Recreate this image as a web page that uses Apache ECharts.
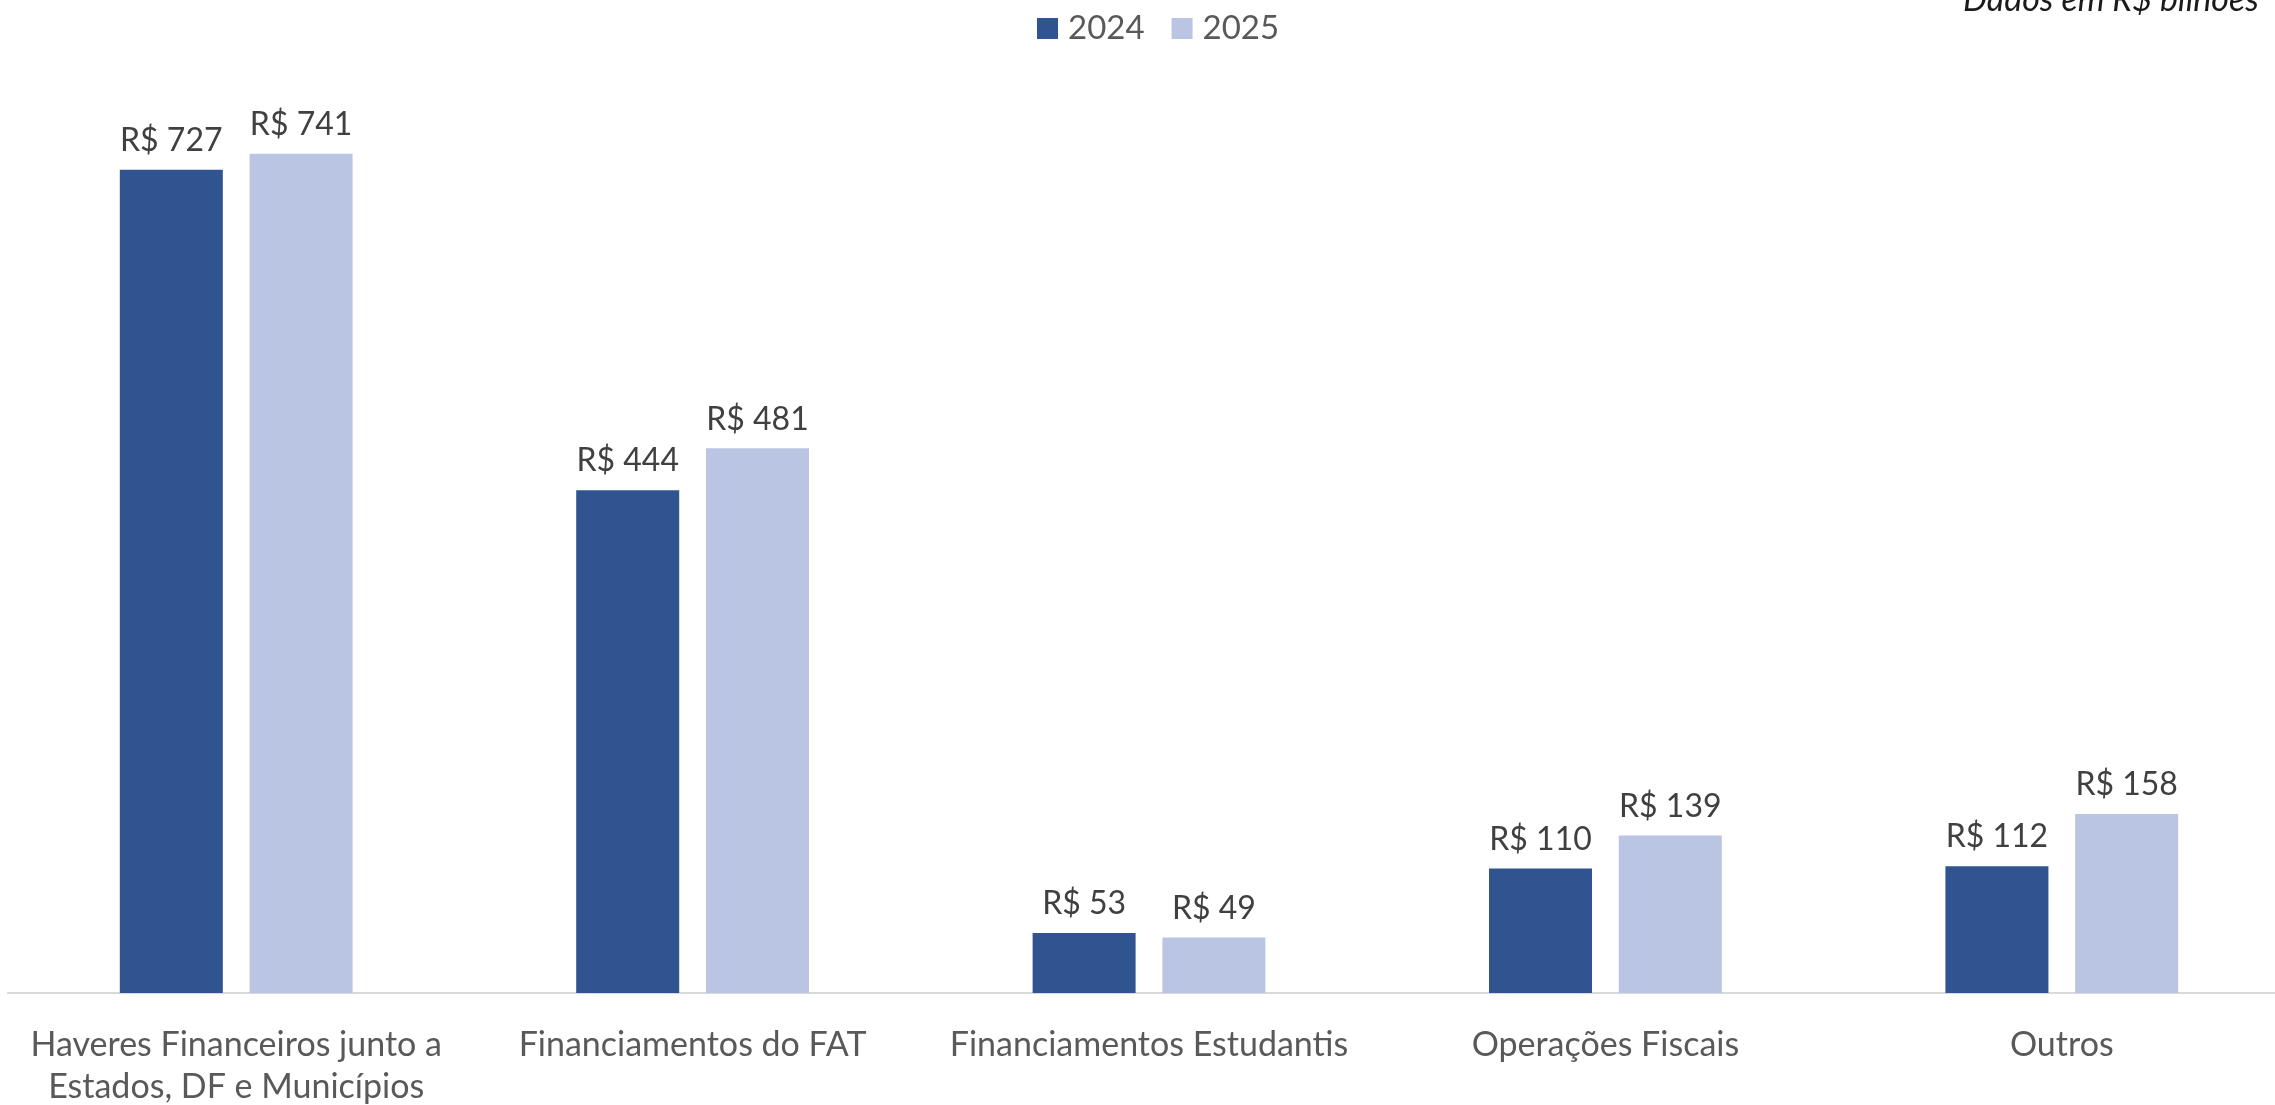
<!DOCTYPE html>
<html><head><meta charset="utf-8">
<script src="https://cdn.jsdelivr.net/npm/echarts@6/dist/echarts.min.js"></script>
<style>html,body{margin:0;padding:0;background:#fff;}#c{width:2275px;height:1105px;}</style>
</head><body><div id="c"></div>
<script>
const categories = ['Haveres Financeiros junto a\nEstados, DF e Municípios', 'Financiamentos do FAT', 'Financiamentos Estudantis', 'Operações Fiscais', 'Outros'];
const seriesNames = ['2024', '2025'];
const values2024 = [727, 444, 53, 110, 112];
const values2025 = [741, 481, 49, 139, 158];
const noteText = 'Dados em R$ bilhões';

const chart = echarts.init(document.getElementById('c'));
const FONT = 'Lato';
const lbl = {
  show: true, position: 'top', distance: 13,
  fontFamily: FONT, fontSize: 32, color: '#404040',
  formatter: p => 'R$ ' + p.value
};
chart.setOption({
  animation: false,
  textStyle: { fontFamily: FONT },
  legend: {
    data: seriesNames, top: 7, left: 1032,
    itemWidth: 21, itemHeight: 21, itemGap: 27,
    icon: 'rect',
    textStyle: { fontFamily: FONT, fontSize: 33, color: '#595959', padding: [0, 0, 0, 5] }
  },
  graphic: [{
    type: 'text', left: 1963, top: -17,
    style: { text: noteText, font: 'italic 34px Lato', fill: '#1a1a1a' }
  }],
  grid: { left: 8, width: 2282, top: 87, bottom: 112, containLabel: false, outerBoundsMode: 'none' },
  xAxis: {
    type: 'category', data: categories,
    axisLine: { lineStyle: { color: '#D9D9D9', width: 2 } },
    axisTick: { show: false },
    axisLabel: { fontFamily: FONT, fontSize: 34, color: '#595959', margin: 31, lineHeight: 42, interval: 0 }
  },
  yAxis: { type: 'value', min: 0, max: 800, show: false, splitLine: { show: false } },
  series: [
    { name: '2024', type: 'bar', data: values2024, barWidth: 103, barGap: '26%', itemStyle: { color: '#30548F' }, label: lbl },
    { name: '2025', type: 'bar', data: values2025, barWidth: 103, itemStyle: { color: '#BAC4E3' }, label: lbl }
  ]
});
</script></body></html>
